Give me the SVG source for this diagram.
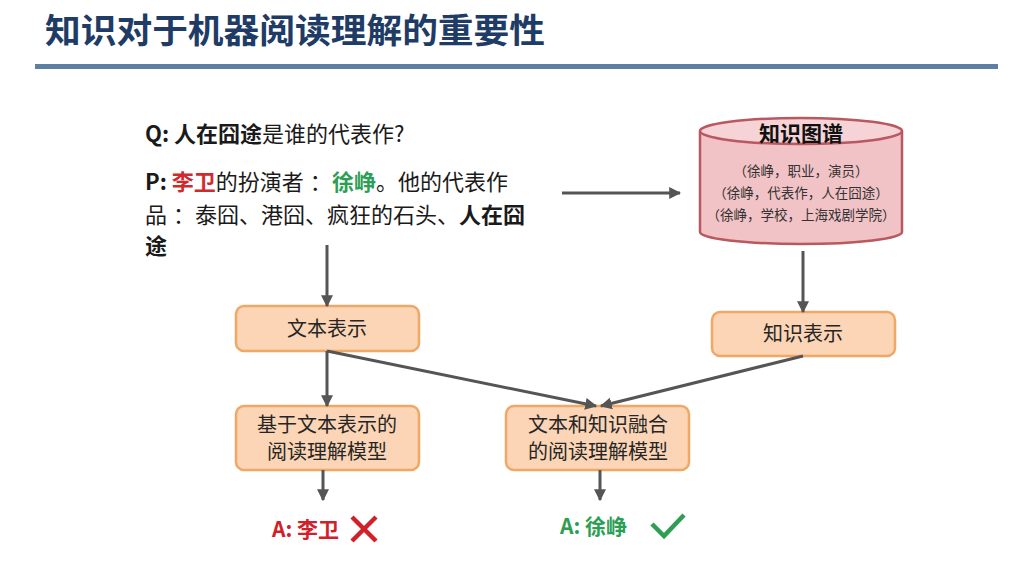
<svg xmlns="http://www.w3.org/2000/svg" width="1031" height="563" viewBox="0 0 1031 563">
<defs>
<marker id="ah" viewBox="0 0 10 10" refX="9" refY="5" markerWidth="4" markerHeight="4" orient="auto" markerUnits="strokeWidth">
<path d="M0,0 L10,5 L0,10 z" fill="#555555"/>
</marker>
<style>
.t{font-family:"Noto Sans CJK SC","Liberation Sans",sans-serif;}
.box{fill:#FBD5B5;stroke:#EFA866;stroke-width:2.5;}
.bt{font-family:"Noto Sans CJK SC","Liberation Sans",sans-serif;font-size:20px;fill:#262626;text-anchor:middle;}
.con{stroke:#555555;stroke-width:3;fill:none;marker-end:url(#ah);}
.kg{font-family:"Noto Sans CJK SC","Liberation Sans",sans-serif;font-size:13.5px;fill:#333333;text-anchor:middle;}
</style>
</defs>
<rect width="1031" height="563" fill="#ffffff"/>
<g id="title">
<text class="t" x="45" y="43" font-size="34" font-weight="bold" fill="#1F3C66" textLength="500" lengthAdjust="spacingAndGlyphs">知识对于机器阅读理解的重要性</text>
<rect x="35" y="64" width="963" height="5" fill="#5E7FA4"/>
</g>
<g id="question">
<text class="t" x="145" y="142" font-size="22" fill="#1a1a1a"><tspan font-weight="bold">Q: 人在囧途</tspan>是谁的代表作?</text>
</g>
<g id="passage">
<text class="t" x="145" y="190" font-size="22" fill="#1a1a1a"><tspan font-weight="bold">P: </tspan><tspan font-weight="bold" fill="#D02A2E">李卫</tspan>的扮演者<tspan dx="6">：</tspan><tspan font-weight="bold" fill="#2E9E55">徐峥</tspan>。他的代表作</text>
<text class="t" x="145" y="223" font-size="22" fill="#1a1a1a">品<tspan dx="6">：</tspan>泰囧、港囧、疯狂的石头、<tspan font-weight="bold">人在囧</tspan></text>
<text class="t" x="145" y="254" font-size="22" fill="#1a1a1a" font-weight="bold">途</text>
</g>
<g id="kg">
<path d="M700,131 L700,232 A101,12 0 0 0 902,232 L902,131" fill="#F1C2C6" stroke="#B9585F" stroke-width="2.5"/>
<ellipse cx="801" cy="131" rx="101" ry="13" fill="#F6D3D6" stroke="#B9585F" stroke-width="2.5"/>
<text class="t" x="801" y="141" font-size="21" font-weight="bold" fill="#111111" text-anchor="middle">知识图谱</text>
<text class="kg" x="801" y="176">（徐峥，职业，演员）</text>
<text class="kg" x="801" y="198">（徐峥，代表作，人在囧途）</text>
<text class="kg" x="801" y="220">（徐峥，学校，上海戏剧学院）</text>
</g>
<g id="text-rep">
<rect class="box" x="236" y="306" width="183" height="45" rx="8"/>
<text class="bt" x="327" y="336">文本表示</text>
</g>
<g id="kg-rep">
<rect class="box" x="712" y="312" width="183" height="44" rx="8"/>
<text class="bt" x="803" y="341">知识表示</text>
</g>
<g id="text-model">
<rect class="box" x="236" y="406" width="183" height="64" rx="8"/>
<text class="bt" x="327" y="432">基于文本表示的</text>
<text class="bt" x="327" y="459">阅读理解模型</text>
</g>
<g id="fusion-model">
<rect class="box" x="506" y="406" width="183" height="64" rx="8"/>
<text class="bt" x="598" y="432">文本和知识融合</text>
<text class="bt" x="598" y="459">的阅读理解模型</text>
</g>
<g id="connectors">
<line class="con" x1="562" y1="193" x2="680" y2="193"/>
<line class="con" x1="327" y1="245" x2="327" y2="306"/>
<line class="con" x1="803" y1="251" x2="803" y2="312"/>
<line class="con" x1="327" y1="351" x2="327" y2="406"/>
<line class="con" x1="327" y1="351" x2="596" y2="406"/>
<line class="con" x1="803" y1="356" x2="601" y2="406"/>
<line class="con" x1="323" y1="470" x2="323" y2="500"/>
<line class="con" x1="600" y1="470" x2="600" y2="500"/>
</g>
<g id="answer-wrong">
<text class="t" x="272" y="537" font-size="21" font-weight="bold" fill="#D0202A">A: 李卫</text>
<path d="M352,517 L376,541 M376,517 L352,541" stroke="#D0202A" stroke-width="4.5" stroke-linecap="butt"/>
</g>
<g id="answer-right">
<text class="t" x="560" y="534" font-size="21" font-weight="bold" fill="#2E9E55">A: 徐峥</text>
<path d="M652,524 L664,536 L684,515" stroke="#2E9E55" stroke-width="4.5" fill="none"/>
</g>
</svg>
